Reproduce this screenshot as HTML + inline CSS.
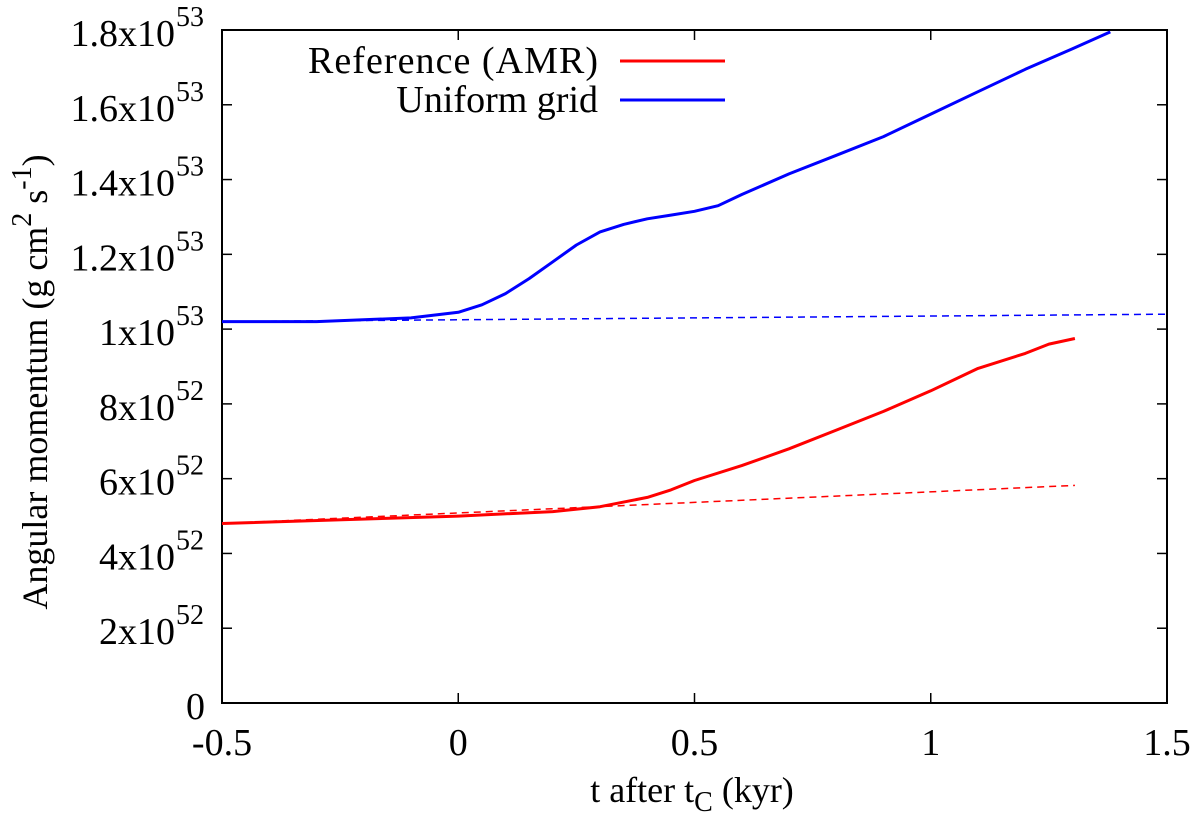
<!DOCTYPE html>
<html><head><meta charset="utf-8"><style>
body{margin:0;background:#fff}
svg text{font-family:"Liberation Serif",serif;fill:#000}
</style></head><body>
<svg id="chart" width="1200" height="828" viewBox="0 0 1200 828">
<g id="axes"></g><g id="series"></g>
<g>
<text x="598" y="73" font-size="38" text-anchor="end" textLength="290">Reference (AMR)</text>
<line x1="620" y1="61" x2="725" y2="61" stroke="#f00" stroke-width="3"/>
<text x="598" y="112" font-size="38" text-anchor="end">Uniform grid</text>
<line x1="620" y1="100" x2="725" y2="100" stroke="#00f" stroke-width="3"/>
</g>
<text x="692" y="802" font-size="36" text-anchor="middle">t after t<tspan font-size="28" dy="9">C</tspan><tspan dy="-9"> (kyr)</tspan></text>
<text transform="translate(47,382) rotate(-90)" font-size="36" text-anchor="middle">Angular momentum (g cm<tspan font-size="28" dy="-16">2</tspan><tspan dy="16"> s</tspan><tspan font-size="28" dy="-16">-1</tspan><tspan dy="16">)</tspan></text>
</svg>
<script>
const xTicks=[-0.5,0,0.5,1,1.5];
const xTickLabels=["-0.5","0","0.5","1","1.5"];
const yTicks=[0,2,4,6,8,10,12,14,16,18];
const yTickMant=["0","2x10","4x10","6x10","8x10","1x10","1.2x10","1.4x10","1.6x10","1.8x10"];
const yTickExp=["","52","52","52","52","53","53","53","53","53"];
const blueX=[-0.5,-0.3,-0.1,0,0.05,0.1,0.15,0.2,0.25,0.3,0.35,0.4,0.45,0.5,0.55,0.6,0.7,0.8,0.9,1.0,1.1,1.2,1.3,1.38];
const blueY=[10.2,10.2,10.3,10.45,10.65,10.95,11.35,11.8,12.25,12.6,12.8,12.95,13.05,13.15,13.3,13.6,14.15,14.65,15.15,15.75,16.35,16.95,17.5,17.95];
const blueDashX=[-0.5,1.5];
const blueDashY=[10.2,10.4];
const redX=[-0.5,0,0.2,0.3,0.4,0.45,0.5,0.6,0.7,0.8,0.9,1.0,1.1,1.2,1.25,1.305];
const redY=[4.8,5.0,5.12,5.25,5.5,5.7,5.95,6.35,6.8,7.3,7.8,8.35,8.95,9.35,9.6,9.75];
const redDashX=[-0.5,1.305];
const redDashY=[4.8,5.82];
const L=222,R=1167,T=30,B=703;
const sx=v=>L+(v+0.5)/2*(R-L);
const sy=v=>B-v/18*(B-T);
const NS="http://www.w3.org/2000/svg";
function mk(tag,attrs,parent){const e=document.createElementNS(NS,tag);for(const k in attrs)e.setAttribute(k,attrs[k]);parent.appendChild(e);return e;}
const ax=document.getElementById('axes');
const frame=mk('rect',{x:L,y:T,width:R-L,height:B-T,fill:'none',stroke:'#000','stroke-width':2},ax);


xTicks.forEach((v,i)=>{
 const x=sx(v);
 const t1=mk('line',{x1:x,y1:B,x2:x,y2:B-10,stroke:'#000','stroke-width':1.5},ax);
 
 
 const t2=mk('line',{x1:x,y1:T,x2:x,y2:T+10,stroke:'#000','stroke-width':1.5},ax);
 
 
 const tx=mk('text',{x:x,y:755,'font-size':38,'text-anchor':'middle'},ax);
 tx.textContent=xTickLabels[i];
 
 
});
yTicks.forEach((v,i)=>{
 const y=sy(v);
 const t1=mk('line',{x1:L,y1:y,x2:L+10,y2:y,stroke:'#000','stroke-width':1.5},ax);
 
 
 const t2=mk('line',{x1:R,y1:y,x2:R-10,y2:y,stroke:'#000','stroke-width':1.5},ax);
 
 
 const tx=mk('text',{x:yTickExp[i]?175:205,y:y+16,'font-size':38,'text-anchor':'end'},ax);
 tx.textContent=yTickMant[i];
 
 
 if(yTickExp[i]){
  const ex=mk('text',{x:176,y:y-4,'font-size':28,'text-anchor':'start'},ax);
  ex.textContent=yTickExp[i];
  
  
 }
});
const se=document.getElementById('series');
function line(xs,ys,color,w,dash,name){
 const d=xs.map((v,i)=>(i?'L':'M')+sx(v).toFixed(1)+','+sy(ys[i]).toFixed(1)).join(' ');
 const p=mk('path',{d:d,fill:'none',stroke:color,'stroke-width':w,'stroke-linejoin':'round'},se);
 if(dash)p.setAttribute('stroke-dasharray',dash);
 
 
}
line(blueDashX,blueDashY,'#00f',1.5,'7,5','uniform-grid-dashed-line');
line(redDashX,redDashY,'#f00',1.5,'7,5','reference-dashed-line');
line(blueX,blueY,'#00f',3,null,'uniform-grid-line');
line(redX,redY,'#f00',3,null,'reference-amr-line');
</script>
</body></html>
